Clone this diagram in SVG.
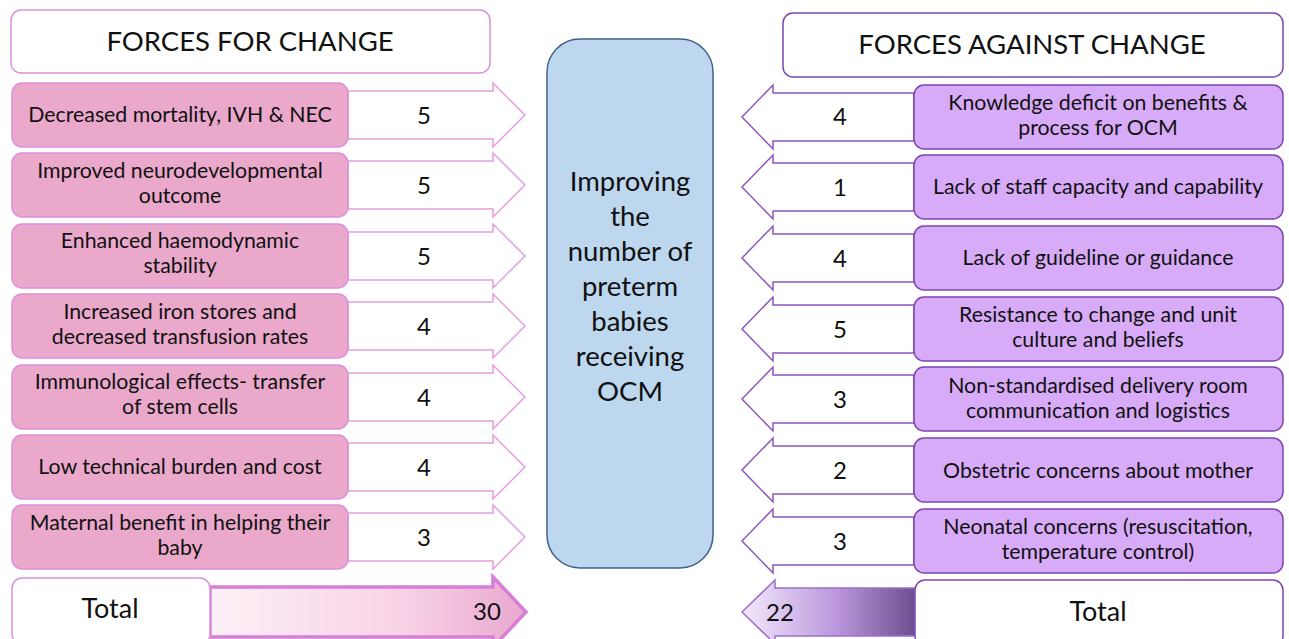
<svg xmlns="http://www.w3.org/2000/svg" width="1289" height="639" viewBox="0 0 1289 639">
  <defs>
    <linearGradient id="gradFor" x1="0" y1="0" x2="1" y2="0">
      <stop offset="0" stop-color="#fdf0f6"/>
      <stop offset="0.6" stop-color="#f8d3e6"/>
      <stop offset="1" stop-color="#e9a8cf"/>
    </linearGradient>
    <linearGradient id="gradAgainst" x1="0" y1="0" x2="1" y2="0">
      <stop offset="0" stop-color="#f3eafc"/>
      <stop offset="0.55" stop-color="#bb96dc"/>
      <stop offset="1" stop-color="#6e4e90"/>
    </linearGradient>
    <style>
      text { font-family: Lato, "Liberation Sans", sans-serif; fill: #111; text-anchor: middle; }
      .hdr { font-size: 27.5px; }
      .lbl { font-size: 21.3px; }
      .num { font-size: 24px; }
      .tot { font-size: 27px; }
      .mid { font-size: 27.5px; }
      .forBox { fill: #eaa8cb; stroke: #dc8fdc; stroke-width: 1.5; }
      .forArrow { fill: #ffffff; stroke: #e39ee3; stroke-width: 1.5; }
      .agBox { fill: #d7abf8; stroke: #7e45b2; stroke-width: 1.5; }
      .agArrow { fill: #ffffff; stroke: #8d55c0; stroke-width: 1.5; }
      .forHdr { fill: #ffffff; stroke: #dc8fdc; stroke-width: 1.5; }
      .agHdr { fill: #ffffff; stroke: #7e45b2; stroke-width: 1.5; }
    </style>
  </defs>

  <!-- Headers -->
  <g id="header-for">
    <rect class="forHdr" x="11" y="10" width="479" height="63" rx="10"/>
    <text class="hdr" x="250" y="51">FORCES FOR CHANGE</text>
  </g>
  <g id="header-against">
    <rect class="agHdr" x="783" y="13" width="500" height="64" rx="10"/>
    <text class="hdr" x="1032" y="54">FORCES AGAINST CHANGE</text>
  </g>

  <!-- Central goal -->
  <g id="goal">
    <rect x="547" y="39" width="166" height="529" rx="33" fill="#bdd7ee" stroke="#41608c" stroke-width="1.5"/>
    <text class="mid" x="630" y="191">Improving</text>
    <text class="mid" x="630" y="226">the</text>
    <text class="mid" x="630" y="261">number of</text>
    <text class="mid" x="630" y="296">preterm</text>
    <text class="mid" x="630" y="331">babies</text>
    <text class="mid" x="630" y="366">receiving</text>
    <text class="mid" x="630" y="401">OCM</text>
  </g>

  <!-- Connectors: force arrows -->
  <g id="connectors">
    <!-- driving forces (point right) -->
    <path class="forArrow" d="M348 91 H493 V83 L525 115 L493 147 V139 H348 Z"/>
    <path class="forArrow" d="M348 161 H493 V153 L525 185 L493 217 V209 H348 Z"/>
    <path class="forArrow" d="M348 232 H493 V224 L525 256 L493 288 V280 H348 Z"/>
    <path class="forArrow" d="M348 302 H493 V294 L525 326 L493 358 V350 H348 Z"/>
    <path class="forArrow" d="M348 373 H493 V365 L525 397 L493 429 V421 H348 Z"/>
    <path class="forArrow" d="M348 443 H493 V435 L525 467 L493 499 V491 H348 Z"/>
    <path class="forArrow" d="M348 513 H493 V505 L525 537 L493 569 V561 H348 Z"/>
    <path d="M210 587 H493 V577 L526 612 L493 647 V637 H210 Z" fill="url(#gradFor)" stroke="#d77ed7" stroke-width="3.5"/>

    <!-- restraining forces (point left) -->
    <path class="agArrow" d="M914 93 H773 V85 L742 117 L773 149 V141 H914 Z"/>
    <path class="agArrow" d="M914 163 H773 V155 L742 187 L773 219 V211 H914 Z"/>
    <path class="agArrow" d="M914 234 H773 V226 L742 258 L773 290 V282 H914 Z"/>
    <path class="agArrow" d="M914 305 H773 V297 L742 329 L773 361 V353 H914 Z"/>
    <path class="agArrow" d="M914 375 H773 V367 L742 399 L773 431 V423 H914 Z"/>
    <path class="agArrow" d="M914 446 H773 V438 L742 470 L773 502 V494 H914 Z"/>
    <path class="agArrow" d="M914 517 H773 V509 L742 541 L773 573 V565 H914 Z"/>
    <path d="M915 588 H775 V580 L742 612 L775 644 V636 H915 Z" fill="url(#gradAgainst)" stroke="#9a70cc" stroke-width="1.5"/>
  </g>

  <!-- Driving force nodes -->
  <g id="for-1">
    <rect class="forBox" x="12" y="83" width="336" height="64" rx="10"/>
    <text class="lbl" x="180" y="122">Decreased mortality, IVH &amp; NEC</text>
    <text class="num" x="424" y="124">5</text>
  </g>
  <g id="for-2">
    <rect class="forBox" x="12" y="153" width="336" height="64" rx="10"/>
    <text class="lbl" x="180" y="178">Improved neurodevelopmental</text>
    <text class="lbl" x="180" y="203">outcome</text>
    <text class="num" x="424" y="194">5</text>
  </g>
  <g id="for-3">
    <rect class="forBox" x="12" y="224" width="336" height="64" rx="10"/>
    <text class="lbl" x="180" y="248">Enhanced haemodynamic</text>
    <text class="lbl" x="180" y="273">stability</text>
    <text class="num" x="424" y="265">5</text>
  </g>
  <g id="for-4">
    <rect class="forBox" x="12" y="294" width="336" height="64" rx="10"/>
    <text class="lbl" x="180" y="319">Increased iron stores and</text>
    <text class="lbl" x="180" y="344">decreased transfusion rates</text>
    <text class="num" x="424" y="335">4</text>
  </g>
  <g id="for-5">
    <rect class="forBox" x="12" y="365" width="336" height="64" rx="10"/>
    <text class="lbl" x="180" y="389">Immunological effects- transfer</text>
    <text class="lbl" x="180" y="414">of stem cells</text>
    <text class="num" x="424" y="406">4</text>
  </g>
  <g id="for-6">
    <rect class="forBox" x="12" y="435" width="336" height="64" rx="10"/>
    <text class="lbl" x="180" y="474">Low technical burden and cost</text>
    <text class="num" x="424" y="476">4</text>
  </g>
  <g id="for-7">
    <rect class="forBox" x="12" y="505" width="336" height="64" rx="10"/>
    <text class="lbl" x="180" y="530">Maternal benefit in helping their</text>
    <text class="lbl" x="180" y="555">baby</text>
    <text class="num" x="424" y="546">3</text>
  </g>
  <g id="for-total">
    <rect class="forHdr" x="12" y="578" width="198" height="66" rx="10"/>
    <text class="tot" x="110" y="618">Total</text>
    <text class="num" x="487" y="620">30</text>
  </g>

  <!-- Restraining force nodes -->
  <g id="against-1">
    <rect class="agBox" x="914" y="85" width="369" height="64" rx="10"/>
    <text class="lbl" x="1098" y="110">Knowledge deficit on benefits &amp;</text>
    <text class="lbl" x="1098" y="135">process for OCM</text>
    <text class="num" x="840" y="125">4</text>
  </g>
  <g id="against-2">
    <rect class="agBox" x="914" y="155" width="369" height="64" rx="10"/>
    <text class="lbl" x="1098" y="194">Lack of staff capacity and capability</text>
    <text class="num" x="840" y="196">1</text>
  </g>
  <g id="against-3">
    <rect class="agBox" x="914" y="226" width="369" height="64" rx="10"/>
    <text class="lbl" x="1098" y="265">Lack of guideline or guidance</text>
    <text class="num" x="840" y="267">4</text>
  </g>
  <g id="against-4">
    <rect class="agBox" x="914" y="297" width="369" height="64" rx="10"/>
    <text class="lbl" x="1098" y="322">Resistance to change and unit</text>
    <text class="lbl" x="1098" y="347">culture and beliefs</text>
    <text class="num" x="840" y="338">5</text>
  </g>
  <g id="against-5">
    <rect class="agBox" x="914" y="367" width="369" height="64" rx="10"/>
    <text class="lbl" x="1098" y="393">Non-standardised delivery room</text>
    <text class="lbl" x="1098" y="418">communication and logistics</text>
    <text class="num" x="840" y="408">3</text>
  </g>
  <g id="against-6">
    <rect class="agBox" x="914" y="438" width="369" height="64" rx="10"/>
    <text class="lbl" x="1098" y="478">Obstetric concerns about mother</text>
    <text class="num" x="840" y="479">2</text>
  </g>
  <g id="against-7">
    <rect class="agBox" x="914" y="509" width="369" height="64" rx="10"/>
    <text class="lbl" x="1098" y="534">Neonatal concerns (resuscitation,</text>
    <text class="lbl" x="1098" y="559">temperature control)</text>
    <text class="num" x="840" y="550">3</text>
  </g>
  <g id="against-total">
    <rect class="agHdr" x="915" y="580" width="368" height="66" rx="10"/>
    <text class="tot" x="1098" y="621">Total</text>
    <text class="num" x="780" y="621">22</text>
  </g>
</svg>
